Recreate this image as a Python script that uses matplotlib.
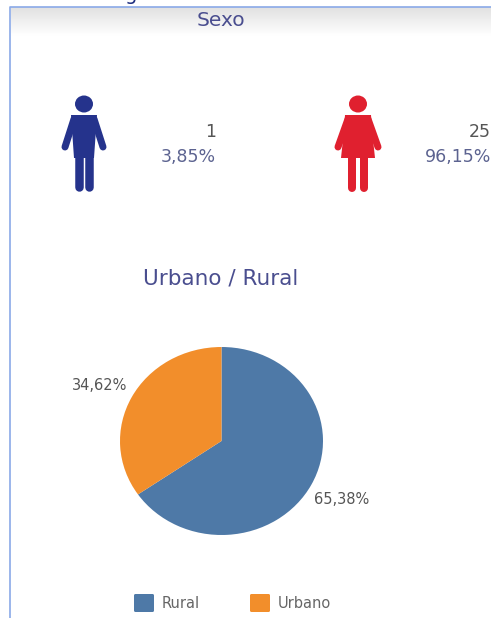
import matplotlib
matplotlib.use("Agg")
import matplotlib.pyplot as plt
import matplotlib.patches as patches
import numpy as np

WIDTH, HEIGHT = 491, 618

sexo_title = "Sexo"
sexo_counts = ["1", "25"]
sexo_percents = ["3,85%", "96,15%"]
pie_title = "Urbano / Rural"
pie_labels = ["Rural", "Urbano"]
pie_values = [65.38, 34.62]
pie_texts = ["65,38%", "34,62%"]
pie_colors = ["#4e79a7", "#f28e2b"]

TITLE_COLOR = "#4a4e8f"
TEXT_COLOR = "#555555"
NAVY = "#25338c"
RED = "#e0202f"


def draw_limb(ax, points, width, color):
    # thick rounded strokes are enough for arms and legs
    xs, ys = zip(*points)
    ax.plot(xs, ys, color=color, lw=width * 72 / 100, solid_capstyle="round", solid_joinstyle="round")


def draw_man(ax, cx, color):
    ax.add_patch(patches.Ellipse((cx, 104), 18, 17, color=color, lw=0))
    ax.add_patch(patches.Polygon([(cx - 13, 115), (cx + 13, 115), (cx + 10, 158), (cx - 10, 158)], color=color, lw=0))
    draw_limb(ax, [(cx - 10, 119), (cx - 19, 147)], 7, color)
    draw_limb(ax, [(cx + 10, 119), (cx + 19, 147)], 7, color)
    draw_limb(ax, [(cx - 5.3, 150), (cx - 5.3, 187)], 8.5, color)
    draw_limb(ax, [(cx + 5.3, 150), (cx + 5.3, 187)], 8.5, color)


def draw_woman(ax, cx, color):
    ax.add_patch(patches.Ellipse((cx, 104), 18, 17, color=color, lw=0))
    ax.add_patch(patches.Polygon(
        [(cx - 13, 115), (cx + 13, 115), (cx + 14, 130), (cx + 17, 158), (cx - 17, 158), (cx - 14, 130)],
        color=color, lw=0))
    draw_limb(ax, [(cx - 10, 119), (cx - 20, 147)], 7, color)
    draw_limb(ax, [(cx + 10, 119), (cx + 20, 147)], 7, color)
    draw_limb(ax, [(cx - 6, 155), (cx - 6, 188)], 8, color)
    draw_limb(ax, [(cx + 6, 155), (cx + 6, 188)], 8, color)


fig = plt.figure(figsize=(WIDTH / 100, HEIGHT / 100), dpi=100)

# overlay axes in pixel coordinates, y going down like the screenshot
ax = fig.add_axes([0, 0, 1, 1])
ax.set_xlim(0, WIDTH)
ax.set_ylim(HEIGHT, 0)
ax.axis("off")

# grey gradient under the panel header
grad = np.linspace(0.88, 1, 50).reshape(-1, 1)
ax.imshow(grad, extent=(11, WIDTH, 36, 7), cmap="gray", vmin=0, vmax=1, aspect="auto", zorder=0)
ax.set_xlim(0, WIDTH)
ax.set_ylim(HEIGHT, 0)

# panel border
ax.plot([10.5, 10.5, WIDTH], [HEIGHT, 6.5, 6.5], color="#8aa9e8", lw=1.2, zorder=1)

# clipped descender of the page title above the panel
ax.text(131, -6, "g", color="#1f2f80", fontsize=14, ha="center", va="center")

ax.text(221, 21, sexo_title, color=TITLE_COLOR, fontsize=14.5, ha="center", va="center")
ax.text(221, 278, pie_title, color=TITLE_COLOR, fontsize=15.5, ha="center", va="center")

draw_man(ax, 84, NAVY)
draw_woman(ax, 358, RED)

ax.text(216, 132, sexo_counts[0], color=TEXT_COLOR, fontsize=12.5, ha="right", va="center")
ax.text(216, 157, sexo_percents[0], color="#5c6390", fontsize=12.5, ha="right", va="center")
ax.text(491, 132, sexo_counts[1], color=TEXT_COLOR, fontsize=12.5, ha="right", va="center")
ax.text(491, 157, sexo_percents[1], color="#5c6390", fontsize=12.5, ha="right", va="center")

# pie is slightly squashed in the screenshot so aspect stays auto
pie_ax = fig.add_axes([120 / WIDTH, 1 - 535 / HEIGHT, 203 / WIDTH, 188 / HEIGHT])
pie_ax.pie(pie_values, colors=pie_colors, startangle=90, counterclock=False, radius=1)
pie_ax.set_xlim(-1, 1)
pie_ax.set_ylim(-1, 1)
pie_ax.set_aspect("auto")

ax.text(342, 499, pie_texts[0], color=TEXT_COLOR, fontsize=10.5, ha="center", va="center")
ax.text(100, 386, pie_texts[1], color=TEXT_COLOR, fontsize=10.5, ha="center", va="center")

# legend
legend_x = [134, 250]
for x, label, color in zip(legend_x, pie_labels, pie_colors):
    ax.add_patch(patches.FancyBboxPatch((x, 594), 20, 18, boxstyle="round,pad=0,rounding_size=1.5",
                                        facecolor=color, edgecolor="none"))
    ax.text(x + 28, 603, label, color="#666666", fontsize=10.5, ha="left", va="center")

fig.savefig("out.png", dpi=100)
